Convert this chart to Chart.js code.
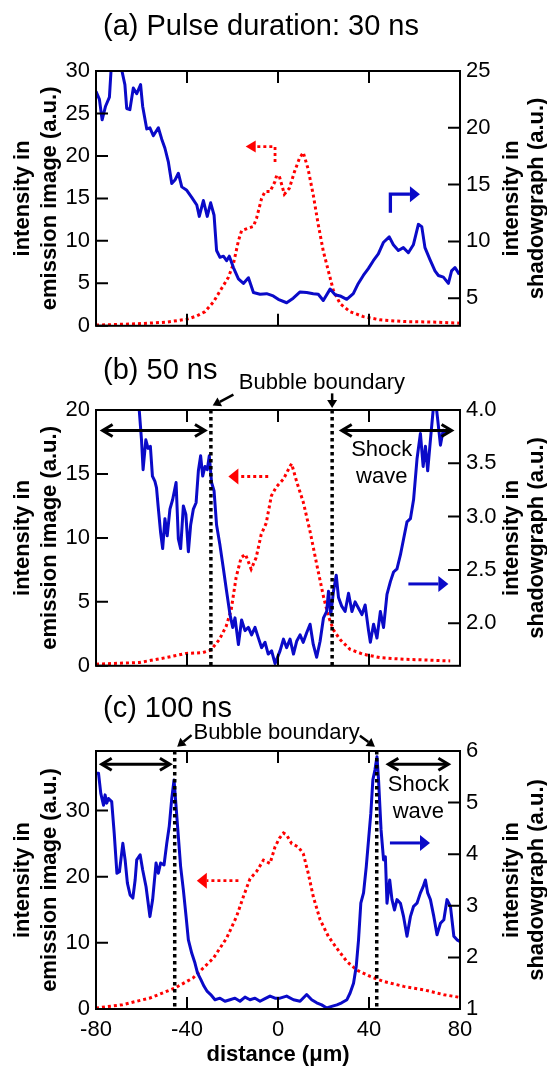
<!DOCTYPE html>
<html>
<head>
<meta charset="utf-8">
<script src="https://cdn.jsdelivr.net/npm/chart.js@4.4.0/dist/chart.umd.min.js"></script>
<style>
  body { margin: 0; background: #fff; width: 547px; height: 1066px; overflow: hidden; position: relative; }
  canvas { position: absolute; left: 0; }
</style>
</head>
<body>
<canvas id="panelA" width="547" height="345" style="top:0"></canvas>
<canvas id="panelB" width="547" height="340" style="top:345px"></canvas>
<canvas id="panelC" width="547" height="381" style="top:685px"></canvas>
<script>
// Colours: red dotted = emission image (left axis), blue solid = shadowgraph (right axis)

// --- (a) Pulse duration: 30 ns ---
const aEmissionDist = [-80, -62.7, -49, -40.1, -35.7, -32.1, -28.4, -24.8, -21.8, -19.6, -17.4, -16.0, -13.0, -10.8, -9.4, -7.2, -5.7, -3.5, -1.3, -0.6, 0.6, 2.8, 5.0, 7.2, 9.4, 11.1, 13.2, 15.5, 17.7, 19.9, 22.1, 24.3, 27.3, 31.7, 37.5, 44.9, 55.1, 69.7, 80];
const aEmission = [0.08, 0.23, 0.43, 0.77, 1.16, 1.66, 2.8, 4.4, 5.7, 7.3, 10.0, 11.2, 11.5, 11.7, 12.7, 15.0, 15.8, 15.8, 17.0, 17.7, 17.6, 15.5, 16.2, 18.1, 19.7, 20.4, 18.5, 15.4, 11.9, 8.8, 6.5, 4.2, 2.6, 1.66, 1.08, 0.70, 0.50, 0.43, 0.31];
const aShadowDist = [-80, -78.5, -77.3, -75.8, -74.1, -73.1, -70.9, -68.7, -67.3, -66.5, -65.1, -63.6, -62.1, -60.4, -59.5, -57.7, -56.3, -54.8, -52.6, -51.1, -49.7, -48.2, -46.7, -45.3, -43.8, -42.3, -40.1, -38.0, -35.7, -34.6, -32.8, -31.1, -29.6, -28.1, -27.0, -25.5, -24.0, -22.6, -21.4, -19.6, -17.4, -15.2, -13.0, -10.8, -7.9, -5.0, -2.1, 0.1, 3.8, 6.7, 9.7, 12.6, 15.5, 17.7, 19.9, 22.9, 25.1, 27.3, 30.2, 33.1, 35.3, 37.5, 39.7, 41.9, 44.1, 46.3, 48.9, 50.7, 52.9, 55.1, 57.3, 59.5, 61.7, 63.2, 64.6, 66.8, 69.0, 70.5, 72.7, 74.9, 76.3, 77.8, 79.7];
const aShadow = [23.2, 22.5, 20.7, 21.9, 22.7, 26, 27, 25.1, 23.8, 21.7, 21.6, 23.5, 23.0, 23.8, 21.9, 19.9, 20.0, 19.3, 20.0, 19.0, 18.2, 17.0, 15.1, 15.4, 16.0, 14.8, 14.5, 13.9, 13.2, 12.2, 13.6, 12.2, 13.4, 12.3, 9.2, 8.6, 8.7, 8.3, 8.7, 7.7, 6.7, 6.3, 6.8, 5.5, 5.35, 5.4, 5.2, 4.9, 4.6, 5.0, 5.55, 5.5, 5.4, 5.35, 4.8, 5.8, 5.3, 5.2, 4.9, 5.4, 6.3, 7.0, 7.6, 8.3, 8.9, 9.9, 10.4, 9.7, 9.2, 9.45, 9.0, 9.7, 11.5, 11.3, 9.45, 8.4, 7.4, 7.0, 6.85, 6.3, 7.4, 7.7, 7.1];
const aLeftTicks = [0, 5, 10, 15, 20, 25, 30];
const aRightTicks = [5, 10, 15, 20, 25];

// --- (b) 50 ns ---
const bEmissionDist = [-80, -60.9, -49.2, -40.4, -33.1, -29.5, -25.8, -22.8, -20.6, -18.4, -16.2, -14.3, -11.8, -9.6, -7.4, -5.2, -2.9, -0.7, 2.4, 5.3, 6.0, 8.2, 11.1, 14.1, 17.0, 20.0, 22.2, 24.4, 27.3, 31.7, 37.5, 44.9, 55.2, 64.0, 75.7];
const bEmission = [0.13, 0.26, 0.64, 0.97, 1.03, 1.23, 2.05, 3.08, 4.36, 6.92, 8.46, 8.72, 7.56, 8.46, 10.26, 11.15, 13.3, 14.0, 14.6, 15.6, 15.8, 14.4, 12.8, 10.5, 7.95, 5.4, 3.85, 2.8, 2.05, 1.28, 0.9, 0.64, 0.51, 0.46, 0.38];
const bShadowDist = [-62.0, -61.0, -60.0, -59.3, -58.1, -57.1, -56.1, -55.2, -54.1, -53.4, -52.7, -51.6, -50.7, -49.7, -48.7, -47.5, -46.3, -44.8, -43.8, -42.8, -41.6, -40.5, -39.4, -38.4, -37.2, -36.0, -35.0, -34.0, -33.1, -32.1, -31.1, -30.2, -29.2, -28.1, -27.0, -25.5, -24.0, -22.6, -21.1, -19.9, -18.9, -17.4, -16.0, -14.5, -13.0, -11.6, -10.1, -8.6, -7.2, -5.7, -4.3, -2.8, -1.3, 0.9, 2.4, 3.8, 5.3, 6.8, 8.2, 9.7, 11.1, 12.6, 14.1, 15.5, 17.0, 18.5, 20.0, 21.4, 22.2, 23.2, 24.4, 25.6, 26.6, 28.0, 29.5, 31.0, 32.5, 33.9, 35.4, 36.9, 38.3, 39.8, 40.6, 42.0, 43.5, 45.0, 46.4, 47.9, 49.4, 50.8, 52.3, 53.8, 55.2, 56.7, 58.2, 59.6, 61.1, 62.6, 63.8, 64.8, 65.8, 67.0, 68.2, 69.2, 70.2, 71.4, 72.6, 74.3];
const bShadow = [4.2, 4.0, 3.72, 3.44, 3.72, 3.64, 3.66, 3.38, 3.33, 3.27, 3.10, 2.85, 2.70, 2.98, 2.82, 3.07, 3.16, 3.32, 2.79, 2.70, 3.10, 3.02, 2.67, 2.92, 3.07, 3.13, 3.43, 3.57, 3.38, 3.47, 3.44, 3.57, 3.32, 3.24, 2.92, 2.73, 2.51, 2.30, 2.08, 1.96, 2.05, 1.80, 2.03, 1.93, 1.96, 1.89, 1.96, 1.86, 1.77, 1.82, 1.71, 1.74, 1.62, 1.74, 1.85, 1.77, 1.85, 1.71, 1.83, 1.89, 1.82, 1.91, 1.99, 1.80, 1.68, 1.83, 2.05, 2.11, 2.30, 2.08, 2.30, 2.45, 2.24, 2.16, 2.11, 2.28, 2.11, 2.20, 2.14, 2.08, 2.17, 1.93, 1.82, 1.99, 1.86, 2.11, 1.96, 2.27, 2.39, 2.48, 2.51, 2.64, 2.79, 2.95, 2.98, 3.16, 3.54, 3.78, 3.47, 3.66, 3.43, 3.72, 4.0, 4.1, 3.91, 3.67, 3.81, 3.78];
const bLeftTicks = [0, 5, 10, 15, 20];
const bRightTicks = [2.0, 2.5, 3.0, 3.5, 4.0];

// --- (c) 100 ns ---
const cEmissionDist = [-80, -68.3, -56.3, -45.3, -37.3, -28.4, -22.6, -18.2, -15.2, -12.3, -9.4, -6.4, -3.5, -1.3, 0.6, 2.4, 3.8, 6.0, 8.9, 11.1, 13.3, 15.5, 18.5, 22.1, 25.8, 30.2, 34.6, 40.5, 46.4, 55.2, 64.0, 72.9, 80];
const cEmission = [0.15, 0.65, 1.66, 3.17, 4.7, 7.69, 10.7, 14.0, 17.0, 19.7, 20.8, 22.5, 22.0, 24.5, 25.8, 26.6, 26.3, 25.0, 24.5, 23.5, 20.5, 17.0, 13.5, 11.0, 9.2, 7.2, 5.9, 4.92, 4.17, 3.42, 2.91, 2.16, 1.75];
const cShadowDist = [-80.0, -78.9, -77.9, -76.7, -76.0, -75.3, -74.5, -73.1, -72.0, -70.8, -69.7, -68.2, -67.2, -66.2, -65.0, -63.8, -62.8, -62.1, -60.6, -59.5, -58.0, -56.3, -55.1, -53.6, -52.6, -51.6, -50.1, -48.9, -47.8, -46.7, -45.7, -44.8, -43.8, -42.8, -41.6, -40.4, -39.4, -37.9, -36.5, -35.4, -33.9, -32.5, -31.1, -29.6, -27.7, -25.5, -23.3, -21.1, -18.9, -16.7, -14.5, -12.3, -10.1, -7.9, -5.7, -3.5, -1.3, 0.9, 3.8, 6.8, 9.7, 12.6, 14.8, 17.0, 19.2, 21.4, 23.6, 25.9, 28.0, 30.3, 31.7, 33.2, 34.4, 35.4, 36.4, 37.6, 38.8, 39.8, 40.8, 41.7, 42.6, 43.5, 44.2, 45.3, 46.4, 47.2, 47.9, 49.1, 50.1, 51.2, 52.3, 53.8, 55.2, 56.7, 58.2, 59.6, 61.1, 62.6, 63.8, 64.8, 65.8, 67.0, 68.5, 69.9, 71.4, 72.9, 74.3, 75.8, 77.3, 78.7, 79.9];
const cShadow = [5.57, 5.57, 5.18, 4.95, 5.15, 4.99, 5.08, 5.02, 4.41, 3.63, 3.66, 4.21, 3.89, 3.44, 3.21, 3.15, 3.50, 3.89, 3.99, 3.70, 3.37, 2.79, 3.12, 3.83, 3.63, 3.83, 3.79, 4.21, 4.54, 5.08, 5.44, 4.92, 4.34, 3.76, 3.31, 2.79, 2.34, 2.08, 1.89, 1.70, 1.57, 1.44, 1.34, 1.28, 1.18, 1.21, 1.15, 1.18, 1.21, 1.15, 1.23, 1.18, 1.21, 1.15, 1.20, 1.25, 1.21, 1.21, 1.25, 1.18, 1.15, 1.28, 1.18, 1.12, 1.08, 1.02, 1.05, 1.08, 1.12, 1.18, 1.31, 1.50, 1.83, 2.34, 3.05, 3.25, 3.76, 4.28, 4.79, 5.44, 5.63, 5.89, 5.44, 4.47, 3.89, 3.95, 3.05, 3.50, 3.12, 2.92, 3.12, 3.05, 2.79, 2.41, 2.79, 2.99, 3.05, 3.25, 3.37, 3.50, 3.25, 3.12, 2.79, 2.44, 2.66, 2.73, 3.12, 2.99, 2.41, 2.34, 2.31];
const cLeftTicks = [0, 10, 20, 30];
const cRightTicks = [1, 2, 3, 4, 5, 6];

const distTicks = [-80, -40, 0, 40, 80];

const RED = '#ff0000';
const BLUE = '#0a0ac8';
const FONT = '"Liberation Sans", Arial, Helvetica, sans-serif';

Chart.defaults.font.family = FONT;
Chart.defaults.font.size = 22;
Chart.defaults.color = '#000';

function toPoints(xs, ys) {
    return xs.map((x, i) => ({ x: x, y: ys[i] }));
}

// --- drawing helpers for the frame and annotations ---
function arrowHead(ctx, fx, fy, tx, ty, len, half) {
    const ang = Math.atan2(ty - fy, tx - fx);
    const bx = tx - len * Math.cos(ang), by = ty - len * Math.sin(ang);
    ctx.beginPath();
    ctx.moveTo(tx, ty);
    ctx.lineTo(bx + half * Math.sin(ang), by - half * Math.cos(ang));
    ctx.lineTo(bx - half * Math.sin(ang), by + half * Math.cos(ang));
    ctx.closePath();
    ctx.fill();
}

function drawArrow(ctx, pts, note) {
    const n = pts.length;
    const [fx, fy] = pts[n - 2], [tx, ty] = pts[n - 1];
    const ang = Math.atan2(ty - fy, tx - fx);
    ctx.save();
    ctx.strokeStyle = note.color;
    ctx.fillStyle = note.color;
    ctx.lineWidth = note.width;
    ctx.setLineDash(note.dash || []);
    ctx.beginPath();
    ctx.moveTo(pts[0][0], pts[0][1]);
    for (let i = 1; i < n - 1; i++) ctx.lineTo(pts[i][0], pts[i][1]);
    ctx.lineTo(tx - note.head[0] * Math.cos(ang), ty - note.head[0] * Math.sin(ang));
    ctx.stroke();
    ctx.setLineDash([]);
    arrowHead(ctx, fx, fy, tx, ty, note.head[0], note.head[1]);
    ctx.restore();
}

function chevron(ctx, tx, ty, dir) {
    ctx.beginPath();
    ctx.moveTo(tx - dir * 10, ty - 6);
    ctx.lineTo(tx, ty);
    ctx.lineTo(tx - dir * 10, ty + 6);
    ctx.stroke();
}

const decorPlugin = {
    id: 'decor',
    afterDatasetsDraw(chart, args, opts) {
        const { ctx, chartArea: a, scales } = chart;
        const x = scales.x, y = scales.y, y2 = scales.y2;
        const px = v => x.getPixelForValue(v);
        const py = v => y.getPixelForValue(v);
        ctx.save();

        // frame + inward ticks
        ctx.strokeStyle = '#000';
        ctx.lineWidth = 2;
        ctx.strokeRect(a.left, a.top, a.right - a.left, a.bottom - a.top);
        const len = 12;
        ctx.beginPath();
        distTicks.forEach(v => {
            ctx.moveTo(px(v), a.top); ctx.lineTo(px(v), a.top + len);
            ctx.moveTo(px(v), a.bottom); ctx.lineTo(px(v), a.bottom - len);
        });
        opts.leftTicks.forEach(v => {
            ctx.moveTo(a.left, py(v)); ctx.lineTo(a.left + len, py(v));
        });
        opts.rightTicks.forEach(v => {
            const p = y2.getPixelForValue(v);
            ctx.moveTo(a.right, p); ctx.lineTo(a.right - len, p);
        });
        ctx.stroke();

        // panel title
        ctx.fillStyle = '#000';
        ctx.font = '29px ' + FONT;
        ctx.textAlign = 'left';
        ctx.textBaseline = 'alphabetic';
        ctx.fillText(opts.title, 103, opts.titleY);

        // rotated axis titles
        const cy = (a.top + a.bottom) / 2;
        ctx.font = 'bold 22px ' + FONT;
        ctx.textAlign = 'center';
        ctx.textBaseline = 'middle';
        [[23, 'intensity in'], [50, 'emission image (a.u.)'],
         [512, 'intensity in'], [537, 'shadowgraph (a.u.)']].forEach(([tx, t]) => {
            ctx.save();
            ctx.translate(tx, cy);
            ctx.rotate(-Math.PI / 2);
            ctx.fillText(t, 0, 0);
            ctx.restore();
        });
        if (opts.distTitle) {
            ctx.fillText('distance (\u03bcm)', (a.left + a.right) / 2, a.bottom + 46);
        }

        // annotations (positions in data units of x / left y)
        opts.notes.forEach(note => {
            if (note.type === 'vline') {
                ctx.save();
                ctx.strokeStyle = '#000';
                ctx.lineWidth = 3.5;
                ctx.setLineDash([3.5, 3.5]);
                ctx.beginPath();
                ctx.moveTo(px(note.x), a.top);
                ctx.lineTo(px(note.x), a.bottom);
                ctx.stroke();
                ctx.restore();
            } else if (note.type === 'double') {
                ctx.save();
                ctx.strokeStyle = '#000';
                ctx.lineWidth = 3;
                ctx.lineJoin = 'miter';
                const yy = py(note.y), x1 = px(note.x1), x2 = px(note.x2);
                ctx.beginPath();
                ctx.moveTo(x1 + 1, yy); ctx.lineTo(x2 - 1, yy);
                ctx.stroke();
                chevron(ctx, x1, yy, -1);
                chevron(ctx, x2, yy, 1);
                ctx.restore();
            } else if (note.type === 'arrow') {
                drawArrow(ctx, note.pts.map(p => [px(p[0]), py(p[1])]), note);
            } else if (note.type === 'text') {
                ctx.font = '22px ' + FONT;
                ctx.fillStyle = '#000';
                ctx.textAlign = 'center';
                ctx.textBaseline = 'middle';
                ctx.fillText(note.text, px(note.x), py(note.y));
            }
        });
        ctx.restore();
    }
};

// Cria um painel com dois eixos y (emissão à esquerda, sombra à direita)
function createPanel(elementId, cfg) {
    const ctx = document.getElementById(elementId).getContext('2d');
    const fixedTicks = arr => scale => { scale.ticks = arr.map(v => ({ value: v })); };
    return new Chart(ctx, {
        type: 'line',
        data: {
            datasets: [
                {
                    label: 'shadowgraph',
                    data: toPoints(cfg.shadowDist, cfg.shadow),
                    yAxisID: 'y2',
                    borderColor: BLUE,
                    borderWidth: 3,
                    borderJoinStyle: 'round',
                    pointRadius: 0,
                    tension: 0
                },
                {
                    label: 'emission image',
                    data: toPoints(cfg.emissionDist, cfg.emission),
                    yAxisID: 'y',
                    borderColor: RED,
                    borderWidth: 3,
                    borderDash: [3, 3],
                    pointRadius: 0,
                    tension: 0
                }
            ]
        },
        options: {
            responsive: false,
            animation: false,
            layout: { padding: { top: cfg.padTop, bottom: cfg.padBottom, left: 0, right: 0 } },
            plugins: {
                legend: { display: false },
                tooltip: { enabled: false },
                decor: cfg.decor
            },
            scales: {
                x: {
                    type: 'linear',
                    min: -80,
                    max: 80,
                    display: cfg.showDist,
                    afterBuildTicks: fixedTicks(distTicks),
                    afterFit: s => { s.height = cfg.showDist ? 57 : 0; },
                    grid: { display: false, drawTicks: false },
                    border: { display: false },
                    ticks: { padding: 8, maxRotation: 0, autoSkip: false }
                },
                y: {
                    position: 'left',
                    min: cfg.yMin,
                    max: cfg.yMax,
                    afterBuildTicks: fixedTicks(cfg.decor.leftTicks),
                    afterFit: s => { s.width = 96; },
                    grid: { display: false, drawTicks: false },
                    border: { display: false },
                    ticks: { padding: 6, callback: v => String(v) }
                },
                y2: {
                    position: 'right',
                    min: cfg.y2Min,
                    max: cfg.y2Max,
                    afterBuildTicks: fixedTicks(cfg.decor.rightTicks),
                    afterFit: s => { s.width = 87; },
                    grid: { display: false, drawTicks: false },
                    border: { display: false },
                    ticks: { padding: 6, callback: v => v.toFixed(cfg.y2Digits) }
                }
            }
        },
        plugins: [decorPlugin]
    });
}

createPanel('panelA', {
    emissionDist: aEmissionDist, emission: aEmission,
    shadowDist: aShadowDist, shadow: aShadow,
    yMin: 0, yMax: 30, y2Min: 2.57, y2Max: 25, y2Digits: 0,
    showDist: false, padTop: 71, padBottom: 16,
    decor: {
        title: '(a) Pulse duration: 30 ns', titleY: 35,
        leftTicks: aLeftTicks, rightTicks: aRightTicks, distTitle: false,
        notes: [
            { type: 'arrow', pts: [[-1.3, 19.3], [-1.3, 21.1], [-14.2, 21.1]], color: RED, width: 2.8, dash: [3, 3], head: [10, 6] },
            { type: 'arrow', pts: [[49.4, 13.3], [49.4, 15.5], [62.4, 15.5]], color: BLUE, width: 3.3, head: [10, 8] }
        ]
    }
});

createPanel('panelB', {
    emissionDist: bEmissionDist, emission: bEmission,
    shadowDist: bShadowDist, shadow: bShadow,
    yMin: 0, yMax: 20, y2Min: 1.6, y2Max: 4.0, y2Digits: 1,
    showDist: false, padTop: 65, padBottom: 16,
    decor: {
        title: '(b) 50 ns', titleY: 33.5,
        leftTicks: bLeftTicks, rightTicks: bRightTicks, distTitle: false,
        notes: [
            { type: 'vline', x: -29.5 },
            { type: 'vline', x: 23.8 },
            { type: 'double', x1: -77.1, x2: -32.1, y: 18.4 },
            { type: 'double', x1: 28.0, x2: 76.3, y: 18.4 },
            { type: 'text', x: 45.6, y: 16.85, text: 'Shock' },
            { type: 'text', x: 45.6, y: 14.8, text: 'wave' },
            { type: 'arrow', pts: [[-4.3, 14.8], [-21.8, 14.8]], color: RED, width: 2.8, dash: [3, 3], head: [10, 8] },
            { type: 'arrow', pts: [[57.3, 6.4], [74.9, 6.4]], color: BLUE, width: 3, head: [10, 8] },
            { type: 'text', x: 19.3, y: 22.15, text: 'Bubble boundary' },
            { type: 'arrow', pts: [[-19.6, 21.2], [-28.7, 20.35]], color: '#000', width: 2.5, head: [8, 5] },
            { type: 'arrow', pts: [[23.8, 21.3], [23.8, 20.15]], color: '#000', width: 2.5, head: [8, 5] }
        ]
    }
});

createPanel('panelC', {
    emissionDist: cEmissionDist, emission: cEmission,
    shadowDist: cShadowDist, shadow: cShadow,
    yMin: 0, yMax: 39, y2Min: 1, y2Max: 6, y2Digits: 0,
    showDist: true, padTop: 66, padBottom: 0,
    decor: {
        title: '(c) 100 ns', titleY: 31.7,
        leftTicks: cLeftTicks, rightTicks: cRightTicks, distTitle: true,
        notes: [
            { type: 'vline', x: -45.4 },
            { type: 'vline', x: 43.4 },
            { type: 'double', x1: -77.5, x2: -47.5, y: 37.0 },
            { type: 'double', x1: 48.5, x2: 74.9, y: 37.0 },
            { type: 'text', x: 61.7, y: 33.9, text: 'Shock' },
            { type: 'text', x: 61.7, y: 29.8, text: 'wave' },
            { type: 'arrow', pts: [[-17.4, 19.4], [-35.7, 19.4]], color: RED, width: 2.8, dash: [3, 3], head: [10, 8] },
            { type: 'arrow', pts: [[49.2, 25.1], [66.8, 25.1]], color: BLUE, width: 3, head: [10, 8] },
            { type: 'text', x: -0.6, y: 41.7, text: 'Bubble boundary' },
            { type: 'arrow', pts: [[-38.0, 41.4], [-44.3, 39.65]], color: '#000', width: 2.5, head: [8, 5] },
            { type: 'arrow', pts: [[36.0, 41.3], [42.6, 39.65]], color: '#000', width: 2.5, head: [8, 5] }
        ]
    }
});
</script>
</body>
</html>
